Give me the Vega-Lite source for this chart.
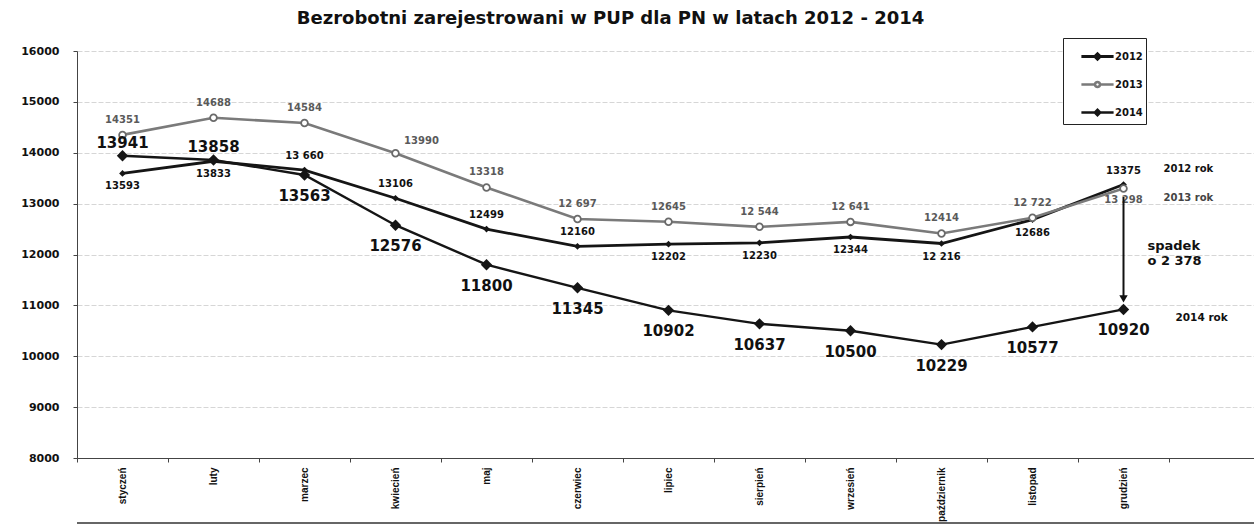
{
  "$schema": "https://vega.github.io/schema/vega-lite/v6.json",
  "autosize": {"type": "none"},
  "width": 1177,
  "height": 407,
  "padding": {"left": 77, "top": 51, "right": 0, "bottom": 68},
  "background": "white",
  "title": {
    "text": "Bezrobotni zarejestrowani w PUP dla PN w latach 2012 - 2014",
    "anchor": "middle",
    "dx": -55,
    "offset": 10,
    "font": "DejaVu Sans",
    "fontSize": 18,
    "fontWeight": "bold",
    "color": "#111"
  },
  "config": {
    "view": {"stroke": null},
    "font": "DejaVu Sans",
    "text": {"font": "DejaVu Sans", "fontWeight": "bold"}
  },
  "datasets": {
    "points": [
      {"month": "styczeń", "year": "2012", "value": 13593, "label": "13593"},
      {"month": "luty", "year": "2012", "value": 13833, "label": "13833"},
      {"month": "marzec", "year": "2012", "value": 13660, "label": "13 660"},
      {"month": "kwiecień", "year": "2012", "value": 13106, "label": "13106"},
      {"month": "maj", "year": "2012", "value": 12499, "label": "12499"},
      {"month": "czerwiec", "year": "2012", "value": 12160, "label": "12160"},
      {"month": "lipiec", "year": "2012", "value": 12202, "label": "12202"},
      {"month": "sierpień", "year": "2012", "value": 12230, "label": "12230"},
      {"month": "wrzesień", "year": "2012", "value": 12344, "label": "12344"},
      {"month": "październik", "year": "2012", "value": 12216, "label": "12 216"},
      {"month": "listopad", "year": "2012", "value": 12686, "label": "12686"},
      {"month": "grudzień", "year": "2012", "value": 13375, "label": "13375"},
      {"month": "styczeń", "year": "2013", "value": 14351, "label": "14351"},
      {"month": "luty", "year": "2013", "value": 14688, "label": "14688"},
      {"month": "marzec", "year": "2013", "value": 14584, "label": "14584"},
      {"month": "kwiecień", "year": "2013", "value": 13990, "label": "13990"},
      {"month": "maj", "year": "2013", "value": 13318, "label": "13318"},
      {"month": "czerwiec", "year": "2013", "value": 12697, "label": "12 697"},
      {"month": "lipiec", "year": "2013", "value": 12645, "label": "12645"},
      {"month": "sierpień", "year": "2013", "value": 12544, "label": "12 544"},
      {"month": "wrzesień", "year": "2013", "value": 12641, "label": "12 641"},
      {"month": "październik", "year": "2013", "value": 12414, "label": "12414"},
      {"month": "listopad", "year": "2013", "value": 12722, "label": "12 722"},
      {"month": "grudzień", "year": "2013", "value": 13298, "label": "13 298"},
      {"month": "styczeń", "year": "2014", "value": 13941, "label": "13941"},
      {"month": "luty", "year": "2014", "value": 13858, "label": "13858"},
      {"month": "marzec", "year": "2014", "value": 13563, "label": "13563"},
      {"month": "kwiecień", "year": "2014", "value": 12576, "label": "12576"},
      {"month": "maj", "year": "2014", "value": 11800, "label": "11800"},
      {"month": "czerwiec", "year": "2014", "value": 11345, "label": "11345"},
      {"month": "lipiec", "year": "2014", "value": 10902, "label": "10902"},
      {"month": "sierpień", "year": "2014", "value": 10637, "label": "10637"},
      {"month": "wrzesień", "year": "2014", "value": 10500, "label": "10500"},
      {"month": "październik", "year": "2014", "value": 10229, "label": "10229"},
      {"month": "listopad", "year": "2014", "value": 10577, "label": "10577"},
      {"month": "grudzień", "year": "2014", "value": 10920, "label": "10920"}
    ],
    "notes": [
      {"month": "grudzień", "value": 13375, "text": "2012 rok", "kind": "above"},
      {"month": "grudzień", "value": 13298, "text": "2013 rok", "kind": "below"},
      {"month": "grudzień", "value": 10920, "text": "2014 rok", "kind": "low"}
    ],
    "drop": [
      {"month": "grudzień", "value": 12170, "text": "spadek"},
      {"month": "grudzień", "value": 11880, "text": "o  2 378"}
    ],
    "arrow": [
      {"month": "grudzień", "from": 13130, "to": 11130}
    ],
    "frame": [
      {"value": 6720}
    ]
  },
  "encoding": {
    "x": {
      "field": "month",
      "type": "ordinal",
      "sort": null,
      "scale": {"domain": ["styczeń", "luty", "marzec", "kwiecień", "maj", "czerwiec", "lipiec", "sierpień", "wrzesień", "październik", "listopad", "grudzień", " "], "range": [0, 1183], "paddingInner": 0, "paddingOuter": 0},
      "axis": {
        "title": null,
        "labelAngle": 270,
        "labelFont": "Liberation Sans",
        "labelFontSize": 10,
        "labelFontWeight": "bold",
        "labelColor": "#111",
        "labelPadding": 5,
        "tickBand": "extent",
        "tickSize": 4,
        "tickColor": "#444",
        "domainColor": "#444",
        "grid": false
      }
    },
    "y": {
      "field": "value",
      "type": "quantitative",
      "scale": {"domain": [8000, 16000], "nice": false, "zero": false},
      "axis": {
        "title": null,
        "values": [8000, 9000, 10000, 11000, 12000, 13000, 14000, 15000, 16000],
        "format": "d",
        "labelFont": "DejaVu Sans",
        "labelFontSize": 11,
        "labelFontWeight": "bold",
        "labelColor": "#111",
        "labelPadding": 14,
        "tickSize": 4,
        "tickColor": "#444",
        "domainColor": "#444",
        "grid": true,
        "gridColor": "#d6d6d6",
        "gridDash": [5, 2]
      }
    }
  },
  "layer": [
    {
      "data": {"name": "frame"},
      "mark": {"type": "rule", "color": "#333", "strokeWidth": 1.5},
      "encoding": {
        "x": null,
        "y": {"field": "value", "type": "quantitative"}
      }
    },
    {
      "data": {"name": "points"},
      "mark": {"type": "line"},
      "encoding": {
        "color": {
          "field": "year",
          "type": "nominal",
          "scale": {"domain": ["2012", "2013", "2014"], "range": ["#151515", "#7a7a7a", "#151515"]},
          "legend": {
            "title": null,
            "orient": "none",
            "legendX": 986,
            "legendY": -13,
            "strokeColor": "#222",
            "fillColor": "white",
            "padding": 3,
            "rowPadding": 4,
            "symbolSize": 784,
            "symbolOffset": 16,
            "symbolStrokeWidth": 2.8,
            "labelFontSize": 10,
            "labelFont": "DejaVu Sans",
            "labelFontWeight": "bold",
            "labelColor": "#111",
            "labelOffset": 2,
            "labelExpr": "datum.label + '\u00a0\u00a0\u00a0\u00a0\u00a0\u00a0\u00a0\u00a0\u00a0\u00a0\u00a0'",
            "encode": {
              "symbols": {
                "update": {
                  "shape": {"signal": "datum.value == '2013' ? 'M-1.15,0H-0.18M0.18,0H1.15M-0.18,0A0.18,0.18 0 1,0 0.18,0A0.18,0.18 0 1,0 -0.18,0' : 'M-1.15,0H1.15M-0.2,0L0,-0.2L0.2,0L0,0.2Z'"},
                  "fill": {"signal": "datum.value == '2013' ? '#ffffff' : '#151515'"},
                  "strokeWidth": {"value": 2.8}
                }
              }
            }
          }
        },
        "strokeWidth": {
          "field": "year",
          "type": "ordinal",
          "scale": {"domain": ["2012", "2013", "2014"], "range": [2.8, 2.4, 3.6]},
          "legend": null
        }
      }
    },
    {
      "data": {"name": "points"},
      "transform": [{"filter": "datum.year == '2012'"}],
      "mark": {"type": "point", "shape": "diamond", "filled": true, "color": "#151515", "size": 45, "opacity": 1}
    },
    {
      "data": {"name": "points"},
      "transform": [{"filter": "datum.year == '2013'"}],
      "mark": {"type": "point", "shape": "circle", "filled": true, "fill": "#ffffff", "stroke": "#6a6a6a", "strokeWidth": 1.8, "size": 45, "opacity": 1}
    },
    {
      "data": {"name": "points"},
      "transform": [{"filter": "datum.year == '2014'"}],
      "mark": {"type": "point", "shape": "diamond", "filled": true, "color": "#151515", "size": 130, "opacity": 1}
    },
    {
      "data": {"name": "points"},
      "transform": [{"filter": "datum.year == '2013' && datum.month != 'grudzień' && datum.month != 'kwiecień'"}],
      "mark": {"type": "text", "dy": -15, "fontSize": 10, "color": "#5a5a5a"},
      "encoding": {"text": {"field": "label"}}
    },
    {
      "data": {"name": "points"},
      "transform": [{"filter": "datum.year == '2013' && datum.month == 'kwiecień'"}],
      "mark": {"type": "text", "dx": 26, "dy": -12, "fontSize": 10, "color": "#5a5a5a"},
      "encoding": {"text": {"field": "label"}}
    },
    {
      "data": {"name": "points"},
      "transform": [{"filter": "datum.year == '2013' && datum.month == 'grudzień'"}],
      "mark": {"type": "text", "dy": 12, "fontSize": 10, "color": "#5a5a5a"},
      "encoding": {"text": {"field": "label"}}
    },
    {
      "data": {"name": "points"},
      "transform": [{"filter": {"and": [{"field": "year", "equal": "2012"}, {"field": "month", "oneOf": ["marzec", "kwiecień", "maj", "czerwiec", "grudzień"]}]}}],
      "mark": {"type": "text", "dy": -14, "fontSize": 10, "color": "#111"},
      "encoding": {"text": {"field": "label"}}
    },
    {
      "data": {"name": "points"},
      "transform": [{"filter": {"and": [{"field": "year", "equal": "2012"}, {"field": "month", "oneOf": ["styczeń", "luty", "lipiec", "sierpień", "wrzesień", "październik", "listopad"]}]}}],
      "mark": {"type": "text", "dy": 13, "fontSize": 10, "color": "#111"},
      "encoding": {"text": {"field": "label"}}
    },
    {
      "data": {"name": "points"},
      "transform": [{"filter": {"and": [{"field": "year", "equal": "2014"}, {"field": "month", "oneOf": ["styczeń", "luty"]}]}}],
      "mark": {"type": "text", "dy": -13, "fontSize": 15, "color": "#111"},
      "encoding": {"text": {"field": "label"}}
    },
    {
      "data": {"name": "points"},
      "transform": [{"filter": {"and": [{"field": "year", "equal": "2014"}, {"field": "month", "oneOf": ["marzec", "kwiecień", "maj", "czerwiec", "lipiec", "sierpień", "wrzesień", "październik", "listopad", "grudzień"]}]}}],
      "mark": {"type": "text", "dy": 21, "fontSize": 15, "color": "#111"},
      "encoding": {"text": {"field": "label"}}
    },
    {
      "data": {"name": "notes"},
      "transform": [{"filter": "datum.kind == 'above'"}],
      "mark": {"type": "text", "align": "left", "dx": 40, "dy": -16, "fontSize": 10, "color": "#111"},
      "encoding": {"text": {"field": "text"}}
    },
    {
      "data": {"name": "notes"},
      "transform": [{"filter": "datum.kind == 'below'"}],
      "mark": {"type": "text", "align": "left", "dx": 40, "dy": 10, "fontSize": 10, "color": "#444"},
      "encoding": {"text": {"field": "text"}}
    },
    {
      "data": {"name": "notes"},
      "transform": [{"filter": "datum.kind == 'low'"}],
      "mark": {"type": "text", "align": "left", "dx": 52, "dy": 9, "fontSize": 10.5, "color": "#111"},
      "encoding": {"text": {"field": "text"}}
    },
    {
      "data": {"name": "drop"},
      "mark": {"type": "text", "align": "left", "dx": 24, "fontSize": 13, "color": "#111"},
      "encoding": {"text": {"field": "text"}}
    },
    {
      "data": {"name": "arrow"},
      "mark": {"type": "rule", "color": "#111", "strokeWidth": 2},
      "encoding": {
        "y": {"field": "from", "type": "quantitative"},
        "y2": {"field": "to"}
      }
    },
    {
      "data": {"name": "arrow"},
      "mark": {"type": "point", "shape": "triangle-down", "filled": true, "color": "#111", "size": 70, "opacity": 1},
      "encoding": {
        "y": {"field": "to", "type": "quantitative"}
      }
    }
  ]
}
